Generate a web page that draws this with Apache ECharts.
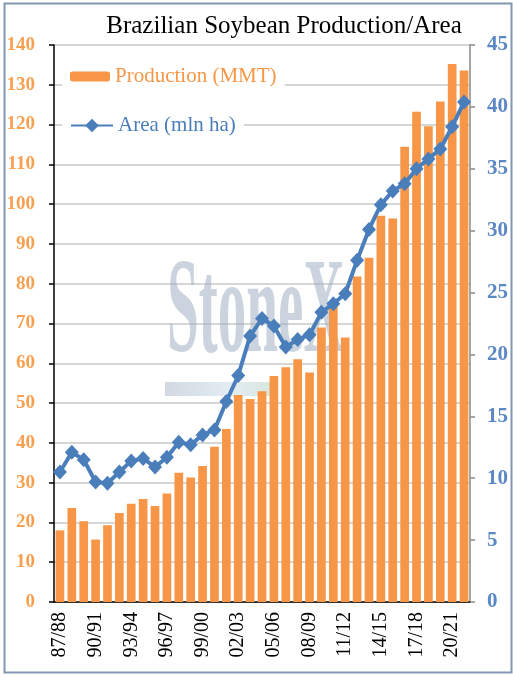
<!DOCTYPE html>
<html>
<head>
<meta charset="utf-8">
<script src="https://cdn.jsdelivr.net/npm/echarts@6/dist/echarts.min.js"></script>
<style>
  html, body { margin: 0; padding: 0; background: #fff; }
  #container { width: 513px; height: 678px; }
</style>
</head>
<body>
<div id="container"></div>
<script>
var years = ['87/88', '88/89', '89/90', '90/91', '91/92', '92/93', '93/94', '94/95', '95/96', '96/97',
  '97/98', '98/99', '99/00', '00/01', '01/02', '02/03', '03/04', '04/05', '05/06', '06/07',
  '07/08', '08/09', '09/10', '10/11', '11/12', '12/13', '13/14', '14/15', '15/16', '16/17',
  '17/18', '18/19', '19/20', '20/21', '21/22'];

// production, MMT (left axis)
var production = [18.0, 23.6, 20.3, 15.7, 19.3, 22.4, 24.7, 25.9, 24.1, 27.3,
  32.5, 31.3, 34.2, 39.0, 43.5, 52.0, 51.0, 53.0, 56.8, 59.0,
  61.0, 57.7, 69.0, 74.8, 66.5, 81.8, 86.5, 97.1, 96.4, 114.4,
  123.2, 119.6, 125.8, 135.2, 133.6];

// planted area, mln ha (right axis)
var area = [10.5, 12.1, 11.5, 9.7, 9.6, 10.5, 11.4, 11.6, 10.9, 11.7,
  12.9, 12.7, 13.5, 13.9, 16.2, 18.3, 21.5, 22.9, 22.3, 20.6,
  21.2, 21.6, 23.4, 24.1, 24.9, 27.6, 30.1, 32.1, 33.2, 33.8,
  35.0, 35.8, 36.6, 38.4, 40.4];

var serif = '"Liberation Serif", "Times New Roman", serif';
var orange = '#f79646';
var blue = '#4a7ebb';

var dom = document.getElementById('container');
var myChart = echarts.init(dom);

var option = {
  animation: false,
  title: {
    text: 'Brazilian Soybean Production/Area',
    left: 279,
    textAlign: 'center',
    top: 9,
    textStyle: { fontFamily: serif, fontSize: 25, fontWeight: 'normal', color: '#000' }
  },
  graphic: [
    {
      type: 'rect', left: 2, top: 1, z: 100, silent: true,
      shape: { width: 507, height: 669 },
      style: { fill: 'none', stroke: '#8496b0', lineWidth: 2 }
    },
    {
      // watermark
      type: 'text', x: 167, y: 248, z: 1, scaleX: 0.42, silent: true,
      style: { text: 'StoneX', font: 'bold 136px ' + serif, fill: 'rgba(160,176,194,0.55)' }
    },
    {
      type: 'rect', x: 165, y: 382, z: 1, silent: true,
      shape: { width: 105, height: 14 },
      style: {
        fill: new echarts.graphic.LinearGradient(0, 0, 1, 0, [
          { offset: 0, color: 'rgba(190,200,212,0.7)' },
          { offset: 0.6, color: 'rgba(215,228,238,0.7)' },
          { offset: 1, color: 'rgba(200,222,208,0.7)' }
        ])
      }
    }
  ],
  legend: [
    {
      data: [{ name: 'Production (MMT)', textStyle: { color: orange } }],
      left: 62, top: 58,
      padding: [8, 8, 8, 8],
      backgroundColor: '#fff',
      itemWidth: 40, itemHeight: 10, itemGap: 5,
      textStyle: { fontFamily: serif, fontSize: 21 }
    },
    {
      data: [{ name: 'Area (mln ha)', textStyle: { color: blue } }],
      left: 62, top: 107,
      padding: [8, 8, 8, 8],
      backgroundColor: '#fff',
      itemWidth: 42, itemHeight: 17,
      textStyle: { fontFamily: serif, fontSize: 21 }
    }
  ],
  grid: { left: 54, right: 43, top: 45, bottom: 76 },
  xAxis: {
    type: 'category',
    data: years,
    axisLine: { lineStyle: { color: '#000', width: 1.5 } },
    axisTick: { interval: 0, length: 5, lineStyle: { color: '#000', width: 1.5 } },
    axisLabel: {
      interval: 2, rotate: 90, margin: 10,
      fontFamily: serif, fontSize: 20, color: '#000'
    }
  },
  yAxis: [{
    type: 'value',
    min: 0, max: 140, interval: 10,
    axisLine: { show: true, lineStyle: { color: '#000', width: 1.5 } },
    axisTick: { show: true, length: 5, lineStyle: { color: '#000', width: 1.5 } },
    splitLine: { lineStyle: { color: '#c8c8c8', width: 1.5 } },
    axisLabel: { margin: 19, fontFamily: serif, fontSize: 19, fontWeight: 'bold', color: '#f9a050' }
  }, {
    type: 'value',
    min: 0, max: 45, interval: 5,
    axisLine: { show: true, lineStyle: { color: '#8a8a8a', width: 1.5 } },
    axisTick: { show: true, length: 5, lineStyle: { color: '#8a8a8a', width: 1.5 } },
    splitLine: { show: false },
    axisLabel: { margin: 17, fontFamily: serif, fontSize: 21, fontWeight: 'bold', color: '#5b87c5' }
  }],
  series: [{
    type: 'bar',
    name: 'Production (MMT)',
    yAxisIndex: 0,
    barCategoryGap: '27%',
    itemStyle: { color: orange },
    data: production
  }, {
    type: 'line',
    name: 'Area (mln ha)',
    yAxisIndex: 1,
    symbol: 'diamond',
    symbolSize: [14, 15],
    showAllSymbol: true,
    lineStyle: { color: blue, width: 4 },
    itemStyle: { color: blue },
    data: area
  }]
};

if (option && typeof option === 'object') {
  myChart.setOption(option, true);
}
</script>
</body>
</html>
